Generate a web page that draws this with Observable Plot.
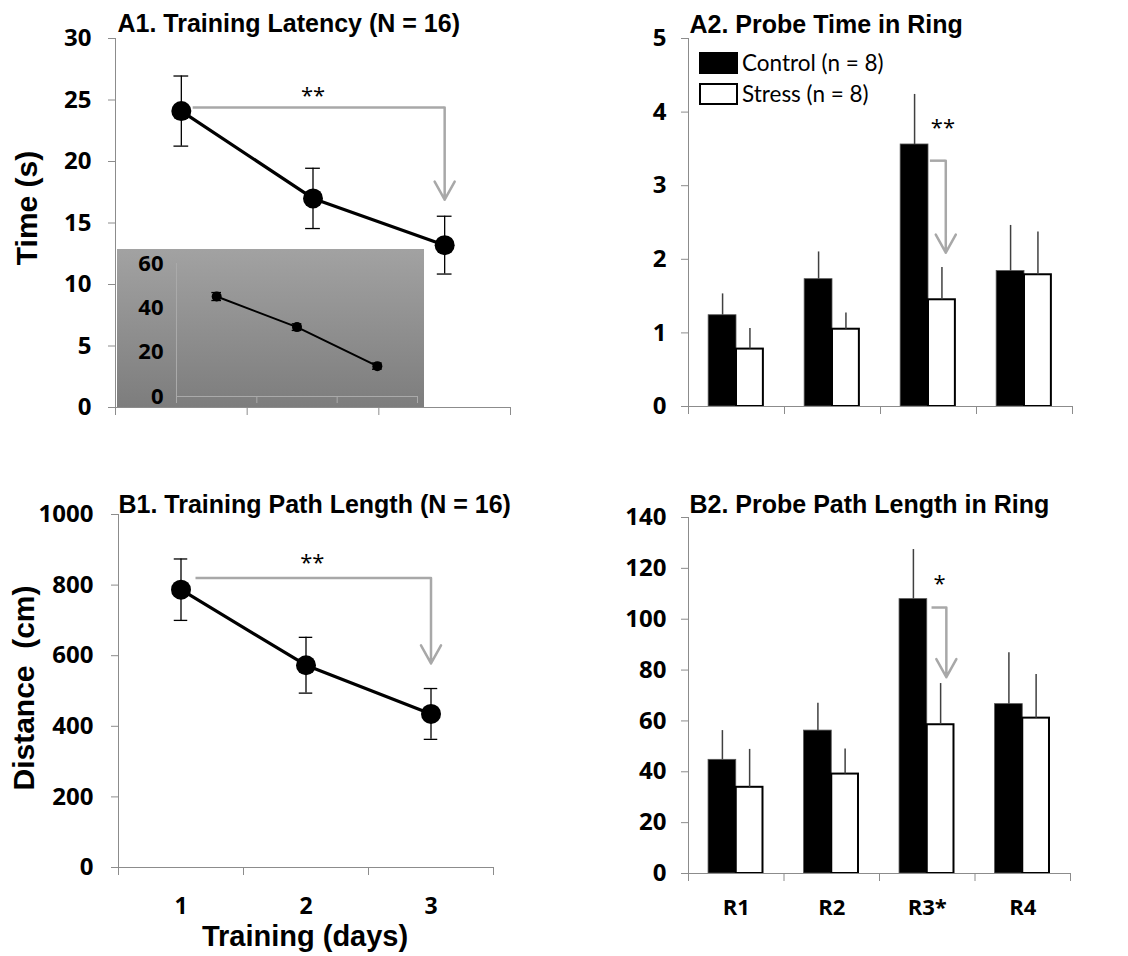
<!DOCTYPE html>
<html>
<head>
<meta charset="utf-8">
<script src="https://cdn.jsdelivr.net/npm/d3@7"></script>
<script src="https://cdn.jsdelivr.net/npm/@observablehq/plot@0.6"></script>
<style>
  body { margin: 0; background: #fff; }
  #fig { position: relative; width: 1128px; height: 956px; overflow: hidden; background: #fff; }
  #fig svg { position: absolute; overflow: visible; }
  .legend { position: absolute; left: 699px; top: 47px; font-family: Lato, sans-serif; font-size: 22.5px; color: #000; }
  .legend .row { display: flex; align-items: center; height: 31px; }
  .legend .sw { width: 39px; height: 22px; box-sizing: border-box; margin-right: 4px; }
</style>
</head>
<body>
<div id="fig"></div>
<script>
// Training days (x) and per-day means / SEM
const days = [1, 2, 3];
const latencyMean = [24.1, 17.0, 13.2];
const latencyErr = [2.85, 2.45, 2.35];
const insetMean = [45.1, 31.3, 13.7];
const insetErr = [1.8, 1.5, 1.4];
const pathMean = [787, 573, 435];
const pathErr = [87, 79, 72];

// Probe trial rings and groups
const rings = [1, 2, 3, 4];
const ringLabels = ["R1", "R2", "R3*", "R4"];
const groups = ["Control (n = 8)", "Stress (n = 8)"];
const probeTimeControl = [1.24, 1.73, 3.56, 1.84];
const probeTimeControlErr = [0.29, 0.37, 0.68, 0.62];
const probeTimeStress = [0.78, 1.05, 1.45, 1.79];
const probeTimeStressErr = [0.28, 0.22, 0.44, 0.58];
const probePathControl = [44.7, 56.2, 107.9, 66.6];
const probePathControlErr = [11.5, 10.8, 19.5, 20.2];
const probePathStress = [33.9, 39.1, 58.5, 61.1];
const probePathStressErr = [14.9, 9.9, 16.2, 17.2];

// Significance brackets: [x start, x end, level, arrow tip, label x, label y, label]
const latencySig = [1.09, 3.0, 24.4, 16.9, 2.0, 25.3, "**"];
const pathSig = [1.12, 3.0, 820, 578, 2.05, 862, "**"];
const probeTimeSig = [3.02, 3.18, 3.34, 2.09, 3.15, 3.78, "**"];
const probePathSig = [3.05, 3.2, 104.6, 77.2, 3.13, 114, "*"];

const AXIS = "#8c8c8c";
const SIG = "#a8a8a8";
const TICKFONT = "'Open Sans', sans-serif";
const TITLEFONT = "'Liberation Sans', Arial, sans-serif";
const fig = document.getElementById("fig");

function place(svg, left, top) {
  svg.style.left = left + "px";
  svg.style.top = top + "px";
  svg.style.background = "transparent";
  fig.appendChild(svg);
  return svg;
}

function series(means, errs) {
  return days.map((d, i) => ({day: d, mean: means[i], lo: means[i] - errs[i], hi: means[i] + errs[i]}));
}

function bars(ctrl, ctrlErr, str, strErr) {
  return rings.flatMap((r, i) => [
    {ring: r, group: groups[0], value: ctrl[i], err: ctrlErr[i], left: r - 0.29, right: r},
    {ring: r, group: groups[1], value: str[i], err: strErr[i], left: r, right: r + 0.28}
  ]);
}

function sigMarks(s) {
  const [x1, x2, level, tip, lx, ly, label] = s;
  return [
    Plot.ruleY([level], {x1: x1, x2: x2, stroke: SIG, strokeWidth: 2.5}),
    Plot.arrow([0], {x1: x2, x2: x2, y1: level, y2: tip, stroke: SIG, strokeWidth: 2.5, headLength: 12.4, headAngle: 58}),
    Plot.text([label], {x: lx, y: ly, fontSize: 22, fontFamily: TICKFONT, fill: "black"})
  ];
}

function title(text, dx, dy) {
  return Plot.text([text], {frameAnchor: "top-left", textAnchor: "start", lineAnchor: "bottom", dx, dy,
    fontSize: 25, fontWeight: "bold", fontFamily: TITLEFONT, fill: "black"});
}

function yTitle(text, dx, dy) {
  return Plot.text([text], {frameAnchor: "left", textAnchor: "middle", lineAnchor: "middle", rotate: -90, dx, dy,
    fontSize: 30, fontWeight: "bold", fontFamily: TITLEFONT, fill: "black"});
}

function lineMarks(data, capHalf, r, sw) {
  return [
    Plot.ruleX(data, {x: "day", y1: "lo", y2: "hi", stroke: "black", strokeWidth: 1.3}),
    Plot.ruleY(data, {y: "lo", x1: d => d.day - capHalf, x2: d => d.day + capHalf, stroke: "black", strokeWidth: 1.3}),
    Plot.ruleY(data, {y: "hi", x1: d => d.day - capHalf, x2: d => d.day + capHalf, stroke: "black", strokeWidth: 1.3}),
    Plot.line(data, {x: "day", y: "mean", stroke: "black", strokeWidth: sw}),
    Plot.dot(data, {x: "day", y: "mean", r, fill: "black", stroke: "none"})
  ];
}

function barMarks(data) {
  return [
    Plot.rect(data.filter(d => d.group === groups[0]), {x1: "left", x2: "right", y1: 0, y2: "value", fill: "black", stroke: "#555", strokeWidth: 0.8}),
    Plot.rect(data.filter(d => d.group === groups[1]), {x1: "left", x2: "right", y1: 0, y2: "value", fill: "white", stroke: "black", strokeWidth: 2}),
    Plot.ruleX(data, {x: d => (d.left + d.right) / 2, y1: "value", y2: d => d.value + d.err, stroke: "#404040", strokeWidth: 1.5})
  ];
}

function yAxis(ticks, pad) {
  return Plot.axisY({ticks, tickSize: 7, tickPadding: pad, fontSize: 24, fontWeight: "bold", fontFamily: TICKFONT,
    stroke: AXIS, fill: "black", tickFormat: d => String(d), label: null});
}

function xBounds(ticks) {
  return Plot.axisX({ticks, tickSize: 8, tickFormat: () => "", stroke: AXIS, label: null});
}

// A1: training latency
const latency = series(latencyMean, latencyErr);
place(Plot.plot({
  width: 560, height: 470,
  marginLeft: 115, marginRight: 50, marginTop: 38, marginBottom: 63,
  x: {domain: [0.5, 3.5]},
  y: {domain: [0, 30]},
  marks: [
    yAxis([0, 5, 10, 15, 20, 25, 30], 17),
    xBounds([0.5, 1.5, 2.5, 3.5]),
    Plot.ruleX([0.5], {stroke: AXIS}),
    Plot.ruleY([0], {stroke: AXIS}),
    ...sigMarks(latencySig),
    ...lineMarks(latency, 0.056, 10, 3.2),
    title("A1. Training Latency (N = 16)", 2, -7),
    yTitle("Time (s)", -88, -15)
  ]
}), 0, 0);

// A1 inset
const inset = series(insetMean, insetErr);
const insetSvg = place(Plot.plot({
  width: 307, height: 158,
  marginLeft: 59, marginRight: 7, marginTop: 14, marginBottom: 11,
  x: {domain: [0.5, 3.5]},
  y: {domain: [0, 60]},
  marks: [
    Plot.axisY({ticks: [0, 20, 40, 60], tickSize: 0, tickPadding: 13, fontSize: 22, fontWeight: "bold",
      fontFamily: TICKFONT, fill: "black", tickFormat: d => String(d), label: null}),
    Plot.axisX({ticks: [0.5, 1.5, 2.5, 3.5], tickSize: 7, tickFormat: () => "", stroke: "#aaaaaa", label: null}),
    Plot.ruleX([0.5], {stroke: "#aaaaaa"}),
    Plot.ruleY([0], {stroke: "#aaaaaa"}),
    ...lineMarks(inset, 0.06, 5, 2)
  ]
}), 117, 249);
insetSvg.style.background = "linear-gradient(#a2a2a2, #7d7d7d)";

// A2: probe time in ring
place(Plot.plot({
  width: 568, height: 470,
  marginLeft: 128, marginRight: 56, marginTop: 38, marginBottom: 64,
  x: {domain: [0.5, 4.5]},
  y: {domain: [0, 5]},
  marks: [
    yAxis([0, 1, 2, 3, 4, 5], 15),
    xBounds([0.5, 1.5, 2.5, 3.5, 4.5]),
    ...barMarks(bars(probeTimeControl, probeTimeControlErr, probeTimeStress, probeTimeStressErr)),
    Plot.ruleX([0.5], {stroke: AXIS}),
    Plot.ruleY([0], {stroke: AXIS}),
    ...sigMarks(probeTimeSig),
    title("A2. Probe Time in Ring", 1, -6)
  ]
}), 560, 0);

// Legend for the probe bar charts
const legend = document.createElement("div");
legend.className = "legend";
legend.innerHTML = groups.map((g, i) =>
  `<div class="row"><span class="sw" style="background:${i === 0 ? "#000" : "#fff"};border:2px solid #000"></span><span>${g}</span></div>`
).join("");
fig.appendChild(legend);

// B1: training path length
const path = series(pathMean, pathErr);
place(Plot.plot({
  width: 560, height: 476,
  marginLeft: 118, marginRight: 67, marginTop: 34, marginBottom: 89,
  x: {domain: [0.5, 3.5]},
  y: {domain: [0, 1000]},
  marks: [
    yAxis([0, 200, 400, 600, 800, 1000], 18),
    xBounds([0.5, 1.5, 2.5, 3.5]),
    Plot.axisX({ticks: days, tickSize: 0, tickPadding: 30, fontSize: 23, fontWeight: "bold", fontFamily: TICKFONT,
      fill: "black", tickFormat: d => String(d), label: null}),
    Plot.ruleX([0.5], {stroke: AXIS}),
    Plot.ruleY([0], {stroke: AXIS}),
    ...sigMarks(pathSig),
    ...lineMarks(path, 0.054, 10, 3.2),
    title("B1. Training Path Length (N = 16)", 0, -2),
    yTitle("Distance\u00a0 (cm)", -94, -3),
    Plot.text(["Training (days)"], {frameAnchor: "bottom", lineAnchor: "bottom", dx: -1, dy: 78,
      fontSize: 29, fontWeight: "bold", fontFamily: TITLEFONT, fill: "black"})
  ]
}), 0, 480);

// B2: probe path length in ring
place(Plot.plot({
  width: 568, height: 476,
  marginLeft: 128, marginRight: 58, marginTop: 37, marginBottom: 83,
  x: {domain: [0.5, 4.5]},
  y: {domain: [0, 140]},
  marks: [
    yAxis([0, 20, 40, 60, 80, 100, 120, 140], 15),
    xBounds([0.5, 1.5, 2.5, 3.5, 4.5]),
    Plot.axisX({ticks: rings, tickSize: 0, tickPadding: 26, fontSize: 22, fontWeight: "bold", fontFamily: TICKFONT,
      fill: "black", tickFormat: d => ringLabels[d - 1], label: null}),
    ...barMarks(bars(probePathControl, probePathControlErr, probePathStress, probePathStressErr)),
    Plot.ruleX([0.5], {stroke: AXIS}),
    Plot.ruleY([0], {stroke: AXIS}),
    ...sigMarks(probePathSig),
    title("B2. Probe Path Length in Ring", 1, -5)
  ]
}), 560, 480);
</script>
</body>
</html>
